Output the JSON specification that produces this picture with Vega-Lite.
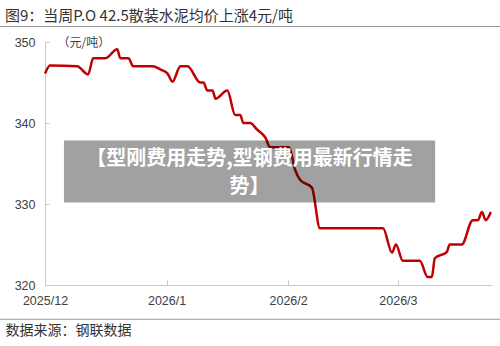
{
  "$schema": "https://vega.github.io/schema/vega-lite/v6.json",
  "autosize": "none",
  "width": 447,
  "height": 243,
  "padding": {"left": 45, "top": 42, "right": 8, "bottom": 61},
  "background": "#ffffff",
  "config": {"view": {"stroke": null}},
  "title": {
    "text": "图9：当周P.O 42.5散装水泥均价上涨4元/吨",
    "anchor": "start",
    "frame": "group",
    "dx": -40,
    "offset": 2,
    "font": "Noto Sans CJK SC",
    "fontSize": 15,
    "fontWeight": "normal",
    "color": "#333333"
  },
  "layer": [
    {
      "data": {
        "values": [
          {"date": "2025-12-01T00:00:00", "price": 346.1},
          {"date": "2025-12-02T07:00:00", "price": 347.1},
          {"date": "2025-12-09T05:00:00", "price": 347},
          {"date": "2025-12-12T00:00:00", "price": 346},
          {"date": "2025-12-13T07:00:00", "price": 348},
          {"date": "2025-12-16T10:00:00", "price": 348},
          {"date": "2025-12-19T10:00:00", "price": 349.1},
          {"date": "2025-12-20T05:00:00", "price": 348},
          {"date": "2025-12-22T07:00:00", "price": 348},
          {"date": "2025-12-23T12:00:00", "price": 347},
          {"date": "2025-12-28T10:00:00", "price": 347},
          {"date": "2025-12-30T12:00:00", "price": 346.6},
          {"date": "2026-01-01T06:00:00", "price": 346.1},
          {"date": "2026-01-02T12:00:00", "price": 345.1},
          {"date": "2026-01-04T13:00:00", "price": 347},
          {"date": "2026-01-06T08:00:00", "price": 347},
          {"date": "2026-01-09T14:00:00", "price": 345},
          {"date": "2026-01-10T10:00:00", "price": 345},
          {"date": "2026-01-11T10:00:00", "price": 344},
          {"date": "2026-01-12T17:00:00", "price": 344},
          {"date": "2026-01-13T12:00:00", "price": 343},
          {"date": "2026-01-16T12:00:00", "price": 344},
          {"date": "2026-01-18T12:00:00", "price": 341},
          {"date": "2026-01-19T19:00:00", "price": 341},
          {"date": "2026-01-20T14:00:00", "price": 340},
          {"date": "2026-01-22T07:00:00", "price": 340},
          {"date": "2026-01-24T02:00:00", "price": 339.2},
          {"date": "2026-01-26T05:00:00", "price": 338.2},
          {"date": "2026-01-27T10:00:00", "price": 337},
          {"date": "2026-02-01T06:00:00", "price": 337},
          {"date": "2026-02-02T19:00:00", "price": 334.2},
          {"date": "2026-02-04T01:00:00", "price": 333},
          {"date": "2026-02-07T02:00:00", "price": 332},
          {"date": "2026-02-09T03:00:00", "price": 327},
          {"date": "2026-02-25T05:00:00", "price": 327},
          {"date": "2026-02-27T12:00:00", "price": 324},
          {"date": "2026-02-28T12:00:00", "price": 325},
          {"date": "2026-03-02T06:00:00", "price": 323},
          {"date": "2026-03-06T14:00:00", "price": 323},
          {"date": "2026-03-08T14:00:00", "price": 321},
          {"date": "2026-03-09T16:00:00", "price": 321},
          {"date": "2026-03-10T10:00:00", "price": 323.3},
          {"date": "2026-03-13T12:00:00", "price": 324.1},
          {"date": "2026-03-14T05:00:00", "price": 325},
          {"date": "2026-03-17T07:00:00", "price": 325},
          {"date": "2026-03-20T02:00:00", "price": 328},
          {"date": "2026-03-21T10:00:00", "price": 328},
          {"date": "2026-03-22T10:00:00", "price": 329},
          {"date": "2026-03-23T10:00:00", "price": 328},
          {"date": "2026-03-24T17:00:00", "price": 329}
        ]
      },
      "mark": {"type": "line", "color": "#c00000", "strokeWidth": 2.5, "interpolate": "monotone"},
      "encoding": {
        "x": {
          "field": "date",
          "type": "temporal",
          "scale": {
            "domain": [
              {"year": 2025, "month": 12, "date": 1},
              {"year": 2026, "month": 3, "date": 25}
            ]
          },
          "axis": {
            "format": "%Y/%-m",
            "tickCount": {"interval": "month", "step": 1},
            "grid": false,
            "labelFlush": false,
            "labelOverlap": false,
            "domainColor": "#c8c8c8",
            "tickColor": "#c8c8c8",
            "tickSize": -5,
            "labelPadding": 14,
            "labelFont": "Liberation Sans",
            "labelFontSize": 12.5,
            "labelColor": "#404040",
            "title": "数据来源：钢联数据",
            "titleFont": "Noto Sans CJK SC",
            "titleFontSize": 14,
            "titleFontWeight": "normal",
            "titleColor": "#333333",
            "titleAnchor": "start",
            "titleAlign": "left",
            "titleBaseline": "middle",
            "titleX": -40,
            "titleY": 45
          }
        },
        "y": {
          "field": "price",
          "type": "quantitative",
          "scale": {"domain": [320, 350], "nice": false, "zero": false},
          "axis": {
            "values": [320, 330, 340, 350],
            "grid": false,
            "domainColor": "#c8c8c8",
            "tickColor": "#c8c8c8",
            "tickSize": -4,
            "labelPadding": 14,
            "labelFont": "Liberation Sans",
            "labelFontSize": 12.5,
            "labelColor": "#404040",
            "title": "（元/吨）",
            "titleAngle": 0,
            "titleX": 12,
            "titleY": 0,
            "titleAlign": "left",
            "titleBaseline": "middle",
            "titleFont": "Noto Sans CJK SC",
            "titleFontSize": 12,
            "titleFontWeight": "normal",
            "titleColor": "#404040"
          }
        }
      }
    },
    {
      "data": {"values": [{}]},
      "mark": {"type": "rule", "color": "#999999", "strokeWidth": 1},
      "encoding": {
        "x": {"datum": {"year": 2025, "month": 11, "date": 19, "hours": 12, "minutes": 30}, "type": "temporal"},
        "x2": {"datum": {"year": 2026, "month": 3, "date": 27, "hours": 2}},
        "y": {"datum": 351.91}
      }
    },
    {
      "data": {"values": [{}]},
      "mark": {"type": "rule", "color": "#999999", "strokeWidth": 1},
      "encoding": {
        "x": {"datum": {"year": 2025, "month": 11, "date": 19, "hours": 12, "minutes": 30}, "type": "temporal"},
        "x2": {"datum": {"year": 2026, "month": 3, "date": 27, "hours": 2}},
        "y": {"datum": 315.77}
      }
    },
    {
      "data": {"values": [{}]},
      "mark": {"type": "rect", "fill": "#000000", "fillOpacity": 0.37, "strokeWidth": 0},
      "encoding": {
        "x": {"datum": {"year": 2025, "month": 12, "date": 5, "hours": 20}, "type": "temporal"},
        "x2": {"datum": {"year": 2026, "month": 3, "date": 10, "hours": 12}},
        "y": {"datum": 337.84},
        "y2": {"datum": 330.19}
      }
    },
    {
      "data": {"values": [{}]},
      "mark": {
        "type": "text",
        "color": "#ffffff",
        "font": "Noto Sans CJK SC",
        "fontSize": 20,
        "fontWeight": "bold",
        "align": "center",
        "baseline": "middle",
        "lineHeight": 28
      },
      "encoding": {
        "x": {"datum": {"year": 2026, "month": 1, "date": 22, "hours": 4}, "type": "temporal"},
        "y": {"datum": 335.6},
        "text": {"value": ["【型刚费用走势,型钢费用最新行情走", "势】"]}
      }
    }
  ]
}
